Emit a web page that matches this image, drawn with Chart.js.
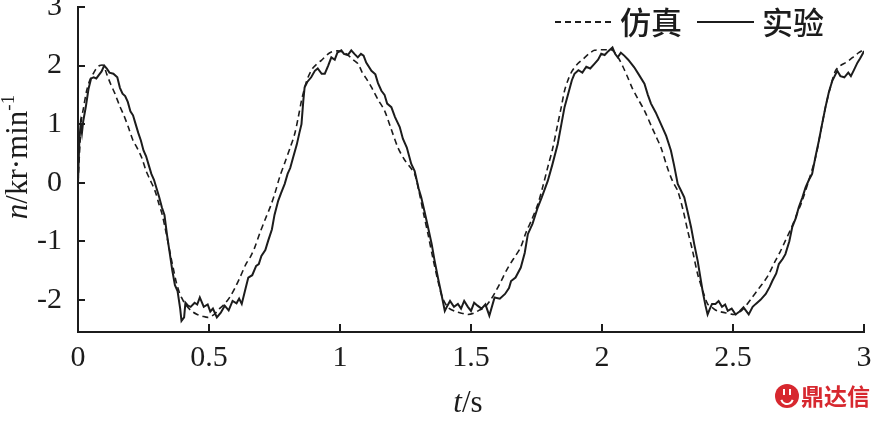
<!DOCTYPE html>
<html>
<head>
<meta charset="utf-8">
<script src="https://cdn.jsdelivr.net/npm/chart.js@4.4.1/dist/chart.umd.min.js"></script>
<style>
  html, body { margin: 0; padding: 0; background: #fff; }
  #wrap { width: 879px; height: 424px; position: relative; }
</style>
</head>
<body>
<div id="wrap"><canvas id="chart-speed"></canvas></div>
<script>
// Datos: velocidad n (kr/min) frente a tiempo t (s)
const xTicks = [0, 0.5, 1, 1.5, 2, 2.5, 3];
const yTicks = [-2, -1, 0, 1, 2, 3];
const legendLabels = ['仿真', '实验'];

// Curva de simulación (discontinua)
const simTime = [
  0.000, 0.008, 0.013, 0.020, 0.033, 0.045, 0.058, 0.070, 0.083, 0.097,
  0.110, 0.125, 0.141, 0.160, 0.175, 0.192, 0.210, 0.225, 0.243, 0.260,
  0.275, 0.294, 0.310, 0.320, 0.332, 0.345, 0.355, 0.363, 0.375, 0.385,
  0.395, 0.410, 0.433, 0.455, 0.475, 0.497, 0.520, 0.540, 0.560, 0.580,
  0.600, 0.620, 0.640, 0.660, 0.675, 0.695, 0.715, 0.735, 0.751, 0.770,
  0.790, 0.810, 0.827, 0.840, 0.853, 0.865, 0.878, 0.895, 0.910, 0.929,
  0.950, 0.967, 0.990, 1.010, 1.030, 1.050, 1.069, 1.085, 1.100, 1.120,
  1.145, 1.170, 1.195, 1.221, 1.245, 1.265, 1.285, 1.300, 1.320, 1.336,
  1.355, 1.374, 1.390, 1.412, 1.440, 1.465, 1.488, 1.510, 1.530, 1.552,
  1.575, 1.595, 1.615, 1.635, 1.655, 1.670, 1.690, 1.710, 1.730, 1.755,
  1.775, 1.795, 1.810, 1.831, 1.845, 1.857, 1.870, 1.885, 1.907, 1.930,
  1.950, 1.971, 2.000, 2.020, 2.040, 2.060, 2.080, 2.098, 2.115, 2.135,
  2.162, 2.190, 2.205, 2.225, 2.250, 2.270, 2.289, 2.310, 2.327, 2.345,
  2.365, 2.385, 2.403, 2.420, 2.440, 2.470, 2.510, 2.540, 2.573, 2.600,
  2.620, 2.637, 2.660, 2.680, 2.700, 2.720, 2.740, 2.764, 2.790, 2.815,
  2.835, 2.853, 2.870, 2.891, 2.910, 2.930, 2.943, 2.960, 2.980, 2.995
];
const simSpeed = [
  0.00, 0.70, 1.08, 1.25, 1.57, 1.75, 1.86, 1.95, 2.00, 2.00,
  1.85, 1.68, 1.52, 1.30, 1.15, 0.95, 0.72, 0.60, 0.43, 0.20,
  0.05, -0.14, -0.38, -0.52, -0.76, -1.05, -1.28, -1.45, -1.70, -1.85,
  -1.96, -2.08, -2.19, -2.25, -2.28, -2.30, -2.25, -2.15, -2.07, -1.95,
  -1.79, -1.60, -1.40, -1.25, -1.10, -0.85, -0.62, -0.40, -0.19, 0.10,
  0.35, 0.60, 0.83, 1.10, 1.40, 1.62, 1.80, 1.95, 2.02, 2.09,
  2.18, 2.23, 2.25, 2.23, 2.18, 2.10, 2.03, 1.88, 1.78, 1.63,
  1.42, 1.23, 0.92, 0.60, 0.40, 0.28, 0.15, -0.12, -0.55, -0.88,
  -1.30, -1.68, -1.95, -2.13, -2.20, -2.23, -2.25, -2.23, -2.18, -2.13,
  -2.00, -1.85, -1.68, -1.50, -1.35, -1.25, -1.10, -0.85, -0.65, -0.37,
  -0.05, 0.30, 0.55, 1.00, 1.30, 1.57, 1.75, 1.90, 2.03, 2.12,
  2.20, 2.26, 2.27, 2.27, 2.26, 2.15, 1.98, 1.80, 1.62, 1.45,
  1.23, 0.95, 0.80, 0.60, 0.25, 0.02, -0.14, -0.48, -0.82, -1.15,
  -1.56, -1.85, -2.07, -2.13, -2.19, -2.22, -2.25, -2.15, -1.96, -1.80,
  -1.68, -1.56, -1.35, -1.18, -0.99, -0.80, -0.58, -0.31, 0.05, 0.43,
  0.88, 1.29, 1.60, 1.91, 2.00, 2.05, 2.09, 2.15, 2.22, 2.26
];

// Curva experimental (continua, con rizado)
const expTime = [
  0.000, 0.005, 0.010, 0.015, 0.020, 0.030, 0.040, 0.050, 0.060, 0.070,
  0.080, 0.090, 0.100, 0.110, 0.120, 0.135, 0.150, 0.160, 0.170, 0.180,
  0.190, 0.200, 0.210, 0.220, 0.230, 0.240, 0.250, 0.260, 0.270, 0.280,
  0.290, 0.300, 0.310, 0.320, 0.330, 0.340, 0.350, 0.360, 0.370, 0.380,
  0.390, 0.395, 0.405, 0.410, 0.420, 0.430, 0.445, 0.455, 0.465, 0.480,
  0.495, 0.505, 0.515, 0.530, 0.545, 0.560, 0.575, 0.590, 0.605, 0.615,
  0.625, 0.640, 0.650, 0.665, 0.680, 0.690, 0.700, 0.715, 0.726, 0.740,
  0.750, 0.764, 0.775, 0.789, 0.800, 0.810, 0.821, 0.835, 0.845, 0.853,
  0.860, 0.865, 0.875, 0.890, 0.904, 0.915, 0.930, 0.942, 0.955, 0.967,
  0.980, 0.990, 1.005, 1.015, 1.030, 1.043, 1.055, 1.068, 1.080, 1.090,
  1.100, 1.120, 1.135, 1.145, 1.158, 1.170, 1.180, 1.196, 1.210, 1.228,
  1.240, 1.255, 1.272, 1.285, 1.300, 1.310, 1.323, 1.336, 1.350, 1.361,
  1.375, 1.387, 1.400, 1.410, 1.420, 1.435, 1.450, 1.462, 1.474, 1.488,
  1.500, 1.512, 1.525, 1.540, 1.555, 1.570, 1.590, 1.610, 1.630, 1.645,
  1.653, 1.670, 1.690, 1.705, 1.717, 1.735, 1.755, 1.770, 1.793, 1.810,
  1.831, 1.845, 1.857, 1.870, 1.885, 1.895, 1.910, 1.925, 1.940, 1.955,
  1.971, 1.985, 1.997, 2.010, 2.025, 2.040, 2.050, 2.060, 2.072, 2.085,
  2.100, 2.123, 2.140, 2.162, 2.175, 2.187, 2.205, 2.225, 2.245, 2.263,
  2.275, 2.289, 2.300, 2.314, 2.327, 2.340, 2.352, 2.365, 2.384, 2.395,
  2.403, 2.412, 2.420, 2.433, 2.445, 2.458, 2.470, 2.480, 2.495, 2.510,
  2.525, 2.540, 2.560, 2.575, 2.587, 2.605, 2.625, 2.640, 2.650, 2.665,
  2.675, 2.690, 2.700, 2.715, 2.726, 2.740, 2.751, 2.765, 2.777, 2.790,
  2.802, 2.815, 2.828, 2.840, 2.853, 2.866, 2.879, 2.898, 2.910, 2.925,
  2.940, 2.950, 2.960, 2.975, 2.985, 2.995, 3.000
];
const expSpeed = [
  0.00, 0.70, 1.00, 0.85, 1.05, 1.30, 1.60, 1.78, 1.80, 1.78,
  1.84, 1.90, 2.00, 1.95, 1.88, 1.86, 1.80, 1.62, 1.52, 1.48,
  1.38, 1.22, 1.15, 1.00, 0.85, 0.72, 0.55, 0.45, 0.30, 0.15,
  0.05, -0.10, -0.25, -0.42, -0.55, -0.90, -1.20, -1.50, -1.75, -1.85,
  -2.15, -2.36, -2.30, -2.05, -2.10, -2.12, -2.05, -2.08, -1.96, -2.12,
  -2.08, -2.20, -2.15, -2.30, -2.22, -2.10, -2.18, -2.02, -2.06, -1.98,
  -2.07, -1.80, -1.62, -1.58, -1.42, -1.39, -1.25, -1.15, -0.99, -0.80,
  -0.55, -0.31, -0.18, -0.02, 0.15, 0.25, 0.43, 0.65, 0.85, 1.00,
  1.40, 1.63, 1.72, 1.80, 1.91, 1.95, 1.86, 1.86, 2.00, 2.14,
  2.10, 2.22, 2.26, 2.20, 2.18, 2.26, 2.20, 2.14, 2.20, 2.17,
  2.05, 1.91, 1.85, 1.70, 1.57, 1.50, 1.35, 1.29, 1.12, 0.95,
  0.75, 0.60, 0.32, 0.20, -0.10, -0.25, -0.50, -0.76, -1.05, -1.33,
  -1.65, -1.90, -2.19, -2.10, -2.02, -2.12, -2.07, -2.15, -2.02, -2.12,
  -2.19, -2.05, -2.10, -2.15, -2.08, -2.27, -1.96, -1.98, -1.90, -1.80,
  -1.68, -1.62, -1.45, -1.20, -0.88, -0.70, -0.42, -0.25, 0.03, 0.30,
  0.66, 1.00, 1.29, 1.50, 1.75, 1.86, 1.92, 1.88, 1.98, 1.95,
  2.03, 2.10, 2.20, 2.18, 2.25, 2.31, 2.20, 2.14, 2.22, 2.17,
  2.10, 1.97, 1.85, 1.69, 1.50, 1.35, 1.20, 1.00, 0.80, 0.55,
  0.30, -0.02, -0.12, -0.25, -0.50, -0.76, -1.05, -1.33, -1.85, -2.10,
  -2.25, -2.15, -2.07, -2.07, -2.02, -2.12, -2.08, -2.19, -2.15, -2.25,
  -2.20, -2.13, -2.25, -2.12, -2.07, -2.00, -1.90, -1.78, -1.68, -1.55,
  -1.39, -1.30, -1.22, -1.00, -0.76, -0.60, -0.42, -0.25, -0.08, 0.05,
  0.15, 0.45, 0.72, 1.00, 1.29, 1.55, 1.74, 1.91, 1.82, 1.80,
  1.88, 1.82, 1.91, 2.05, 2.12, 2.20, 2.25
];

const inkColor = '#1c1c1c';
const serifFont = '"Liberation Serif", "Times New Roman", serif';
const cjkFont = '"Noto Sans CJK SC", sans-serif';

// Títulos de ejes, leyenda y marca de agua dibujados a mano
const decoracion = {
    id: 'decoracion',
    afterDraw(chart) {
        const ctx = chart.ctx;
        ctx.save();
        ctx.fillStyle = inkColor;
        ctx.textBaseline = 'alphabetic';

        // Título eje Y: n/kr·min^-1 (girado)
        ctx.save();
        ctx.translate(27, 157);
        ctx.rotate(-Math.PI / 2);
        const partes = [
            { t: 'n', f: 'italic 31px ' + serifFont, dy: 0 },
            { t: '/kr\u00b7min', f: '31px ' + serifFont, dy: 0 },
            { t: '-1', f: '19px ' + serifFont, dy: -13 }
        ];
        let total = 0;
        partes.forEach(p => { ctx.font = p.f; p.w = ctx.measureText(p.t).width; total += p.w; });
        let px = -total / 2;
        partes.forEach(p => { ctx.font = p.f; ctx.fillText(p.t, px, p.dy); px += p.w; });
        ctx.restore();

        // Título eje X: t/s
        ctx.font = 'italic 31px ' + serifFont;
        const wt = ctx.measureText('t').width;
        ctx.font = '31px ' + serifFont;
        const ws = ctx.measureText('/s').width;
        let sx = 468 - (wt + ws) / 2;
        ctx.font = 'italic 31px ' + serifFont;
        ctx.fillText('t', sx, 412);
        ctx.font = '31px ' + serifFont;
        ctx.fillText('/s', sx + wt, 412);

        // Leyenda
        const items = chart.data.datasets;
        const posLeyenda = [555, 697];
        items.forEach((ds, i) => {
            const x0 = posLeyenda[i];
            ctx.beginPath();
            ctx.setLineDash(ds.borderDash || []);
            ctx.lineWidth = 2;
            ctx.strokeStyle = ds.borderColor;
            ctx.moveTo(x0, 22);
            ctx.lineTo(x0 + 57, 22);
            ctx.stroke();
            ctx.setLineDash([]);
            ctx.font = '500 31px ' + cjkFont;
            ctx.textBaseline = 'middle';
            ctx.fillText(ds.label, x0 + 65, 22);
        });

        // Marca de agua
        ctx.fillStyle = '#d7282f';
        ctx.beginPath();
        ctx.arc(787, 396, 12, 0, Math.PI * 2);
        ctx.fill();
        ctx.strokeStyle = '#fff';
        ctx.lineWidth = 2;
        ctx.beginPath();
        ctx.arc(787, 398, 6, Math.PI * 0.1, Math.PI * 0.9);
        ctx.stroke();
        ctx.fillStyle = '#fff';
        ctx.fillRect(783, 389, 2, 6);
        ctx.fillRect(789, 389, 2, 6);
        ctx.fillStyle = '#d7282f';
        ctx.font = 'bold 23px ' + cjkFont;
        ctx.textBaseline = 'middle';
        ctx.fillText('鼎达信', 801, 396);
        ctx.restore();
    }
};

const ctx = document.getElementById('chart-speed').getContext('2d');
const chartSpeed = new Chart(ctx, {
    type: 'line',
    data: {
        datasets: [{
            label: legendLabels[0],
            data: simTime.map((t, i) => ({ x: t, y: simSpeed[i] })),
            borderColor: inkColor,
            borderWidth: 1.6,
            borderDash: [6, 4],
            pointRadius: 0,
            tension: 0.3,
            fill: false
        }, {
            label: legendLabels[1],
            data: expTime.map((t, i) => ({ x: t, y: expSpeed[i] })),
            borderColor: inkColor,
            borderWidth: 2,
            pointRadius: 0,
            tension: 0,
            fill: false
        }]
    },
    options: {
        responsive: true,
        maintainAspectRatio: false,
        animation: false,
        layout: { padding: { left: 0, right: 15, top: 7, bottom: 0 } },
        plugins: {
            legend: { display: false },
            tooltip: { enabled: false }
        },
        scales: {
            x: {
                type: 'linear',
                min: 0,
                max: 3,
                afterBuildTicks: axis => { axis.ticks = xTicks.map(v => ({ value: v })); },
                afterFit: axis => {
                    axis.height = 92;
                    axis.paddingLeft = 8;
                    axis.paddingRight = 8;
                },
                border: { display: true, color: inkColor, width: 2 },
                grid: {
                    drawOnChartArea: false,
                    drawTicks: true,
                    tickLength: -8,
                    color: inkColor,
                    lineWidth: 2
                },
                ticks: {
                    color: inkColor,
                    padding: 19,
                    maxRotation: 0,
                    autoSkip: false,
                    font: { family: serifFont, size: 30, lineHeight: 1 },
                    callback: v => String(v)
                }
            },
            y: {
                type: 'linear',
                min: -2.55,
                max: 3,
                afterBuildTicks: axis => { axis.ticks = yTicks.map(v => ({ value: v })); },
                afterFit: axis => {
                    axis.width = 78;
                    axis.paddingTop = 7;
                    axis.paddingBottom = 0;
                },
                border: { display: true, color: inkColor, width: 2 },
                grid: {
                    drawOnChartArea: false,
                    drawTicks: true,
                    tickLength: -7,
                    color: inkColor,
                    lineWidth: 2
                },
                ticks: {
                    color: inkColor,
                    padding: 23,
                    autoSkip: false,
                    font: { family: serifFont, size: 30, lineHeight: 1 },
                    callback: v => String(v)
                }
            }
        }
    },
    plugins: [decoracion]
});
</script>
</body>
</html>
